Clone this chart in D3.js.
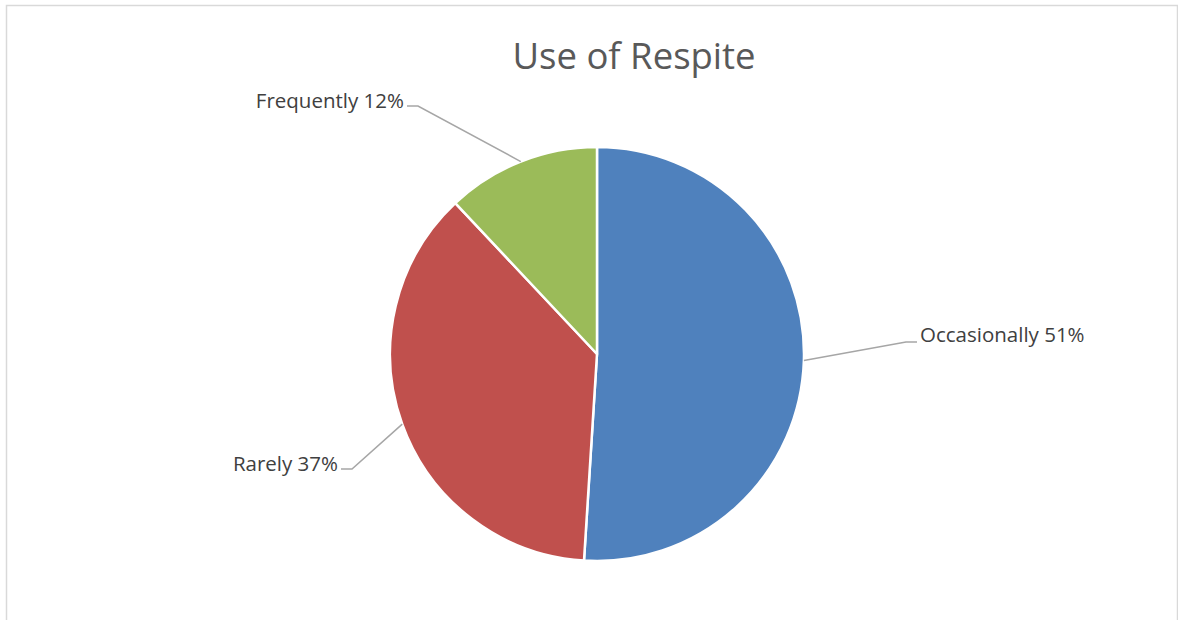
<!DOCTYPE html>
<html>
    <head>
        <meta charset="utf-8">
        <script src="https://d3js.org/d3.v7.min.js"></script>
        <style>
            body { margin: 0; background: #fff; }
            text { font-family: "Open Sans", "Noto Sans", sans-serif; }
        </style>
    </head>
    <body>
        <div id="my_dataviz"></div>
        <script>

            // data
            var categories = ["Occasionally", "Rarely", "Frequently"];
            var values = [51, 37, 12];
            var colors = ["#4F81BD", "#C0504D", "#9BBB59"];

            var width = 1178,
                height = 620;
            var cx = 597, cy = 354, radius = 207;

            var svg = d3.select("#my_dataviz")
                .append("svg")
                    .attr("width", width)
                    .attr("height", height);

            // chart border
            svg.append("rect")
                .attr("x", 6.5).attr("y", 5.5)
                .attr("width", 1171).attr("height", 640)
                .attr("fill", "none")
                .attr("stroke", "#d9d9d9")
                .attr("stroke-width", 1.5);

            // title
            svg.append("text")
                .attr("x", 634).attr("y", 69)
                .attr("text-anchor", "middle")
                .attr("fill", "#595959")
                .style("font-size", "36.5px")
                .text("Use of Respite");

            var g = svg.append("g")
                .attr("transform", `translate(${cx}, ${cy})`);

            var pie = d3.pie().sort(null).value(function(d) { return d[1]; });
            var data_ready = pie(categories.map(function(c, i) { return [c, values[i]]; }));

            var arcGenerator = d3.arc()
                .innerRadius(0)
                .outerRadius(radius);

            g.selectAll("path")
                .data(data_ready)
                .join("path")
                    .attr("d", arcGenerator)
                    .attr("fill", function(d, i) { return colors[i]; })
                    .attr("stroke", "white")
                    .attr("stroke-width", 2.5)
                    .attr("stroke-linejoin", "round");

            // label placement (elbow point relative to center, text side)
            var labelPos = {
                "Occasionally": { x: 906 - cx, y: 342 - cy, side: 1 },
                "Rarely":       { x: 352 - cx, y: 469 - cy, side: -1 },
                "Frequently":   { x: 418 - cx, y: 106 - cy, side: -1 }
            };

            data_ready.forEach(function(d) {
                var name = d.data[0];
                var lp = labelPos[name];
                var mid = (d.startAngle + d.endAngle) / 2;
                var p0 = [radius * Math.sin(mid), -radius * Math.cos(mid)];
                var p2 = [lp.x + lp.side * 11, lp.y];
                g.append("polyline")
                    .attr("points", [p0, [lp.x, lp.y], p2].map(function(p) { return p.join(","); }).join(" "))
                    .attr("fill", "none")
                    .attr("stroke", "#a6a6a6")
                    .attr("stroke-width", 1.5);
                g.append("text")
                    .attr("x", p2[0] + lp.side * 3)
                    .attr("y", lp.y + (name === "Occasionally" ? 0 : 2))
                    .attr("text-anchor", lp.side > 0 ? "start" : "end")
                    .attr("fill", "#404040")
                    .style("font-size", "20.5px")
                    .text(name + " " + d.data[1] + "%");
            });
        </script>
    </body>
</html>
